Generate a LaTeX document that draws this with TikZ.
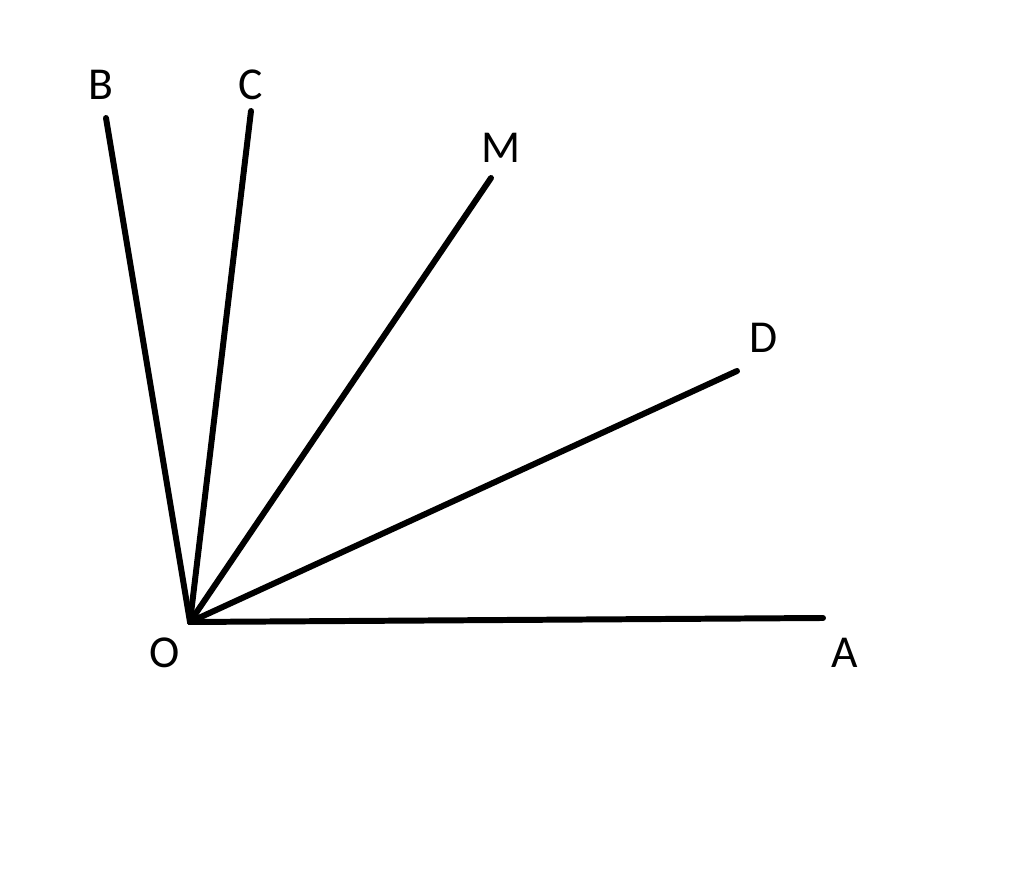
\documentclass[tikz,border=0pt]{standalone}
\usepackage{fontspec}
\setmainfont{Carlito}
\usetikzlibrary{positioning}

\begin{document}
\begin{tikzpicture}
	\tikzset{Strahl/.style = {line width=1.7pt, line cap=round},
		Beschriftung/.style = {font=\fontsize{13}{15}\selectfont, inner sep=0pt}}
	\useasboundingbox (0,0) rectangle (10.24,8.89);
	
	% Punkte
	\coordinate (O) at (1.90,2.67);
	\coordinate (A) at (8.23,2.71);
	\coordinate (B) at (1.06,7.71);
	\coordinate (C) at (2.51,7.78);
	\coordinate (M) at (4.91,7.11);
	\coordinate (D) at (7.37,5.18);
	
	% Beschriftungen
	\node[Beschriftung] (lO) at (1.65,2.36) {O};
	\node[Beschriftung] (lA) at (8.45,2.36) {A};
	\node[Beschriftung] (lB) at (1.01,8.04) {B};
	\node[Beschriftung] (lC) at (2.51,8.04) {C};
	\node[Beschriftung] (lM) at (5.01,7.41) {M};
	\node[Beschriftung] (lD) at (7.64,5.51) {D};
	
	% Strahlen
	\draw[Strahl] (O) -- (A);
	\draw[Strahl] (O) -- (B);
	\draw[Strahl] (O) -- (C);
	\draw[Strahl] (O) -- (M);
	\draw[Strahl] (O) -- (D);
\end{tikzpicture}
\end{document}
